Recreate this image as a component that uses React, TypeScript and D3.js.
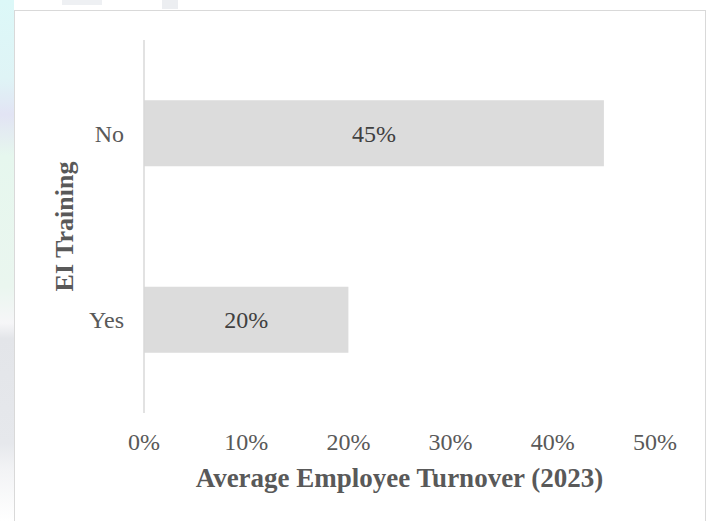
import React from "react";
import * as d3 from "d3";

const categories = ["No", "Yes"];
const values = [0.45, 0.2];
const xTicks = [0, 0.1, 0.2, 0.3, 0.4, 0.5];
const xTitle = "Average Employee Turnover (2023)";
const yTitle = "EI Training";

const W = 709;
const H = 521;
const plot = { left: 144, right: 655, top: 40, bottom: 413 };

export default function App() {
  const x = d3.scaleLinear().domain([0, 0.5]).range([plot.left, plot.right]);
  const y = d3
    .scaleBand<string>()
    .domain(categories)
    .range([plot.top, plot.bottom])
    .paddingInner(0.646)
    .paddingOuter(0.323);
  const fmt = d3.format(".0%");
  const font = "'Liberation Serif', 'Times New Roman', serif";

  return (
    <svg
      width={W}
      height={H}
      style={{ position: "absolute", left: 0, top: 0, background: "#fff" }}
      fontFamily={font}
    >
      {/* faint background watermark strip */}
      <defs>
        <linearGradient id="wm" x1="0" y1="0" x2="0" y2="1">
          <stop offset="0" stopColor="#dcf8f8" />
          <stop offset="0.15" stopColor="#dff4f6" />
          <stop offset="0.22" stopColor="#e2e4f4" />
          <stop offset="0.3" stopColor="#e6f7ee" />
          <stop offset="0.55" stopColor="#eaf6ef" />
          <stop offset="0.62" stopColor="#f6f6f8" />
          <stop offset="0.65" stopColor="#e3e5e9" />
          <stop offset="0.85" stopColor="#e6e8ec" />
          <stop offset="0.9" stopColor="#f2f3f5" />
          <stop offset="1" stopColor="#ffffff" />
        </linearGradient>
      </defs>
      <rect x={0} y={0} width={14} height={H} fill="url(#wm)" />
      <rect x={62} y={0} width={40} height={5} fill="#eef0f3" />
      <rect x={162} y={0} width={16} height={9} fill="#eceef1" />

      {/* chart area border */}
      <rect
        x={14.5}
        y={10.5}
        width={691}
        height={530}
        fill="#fff"
        stroke="#d9d9d9"
        strokeWidth={1}
      />

      {/* bars */}
      {categories.map((c, i) => (
        <rect
          key={c}
          x={x(0)}
          y={y(c)!}
          width={x(values[i]) - x(0)}
          height={y.bandwidth()}
          fill="#dcdcdc"
        />
      ))}

      {/* vertical axis line */}
      <line
        x1={x(0)}
        x2={x(0)}
        y1={plot.top}
        y2={plot.bottom}
        stroke="#d9d9d9"
        strokeWidth={1.5}
      />

      {/* category labels */}
      {categories.map((c) => (
        <text
          key={c}
          x={x(0) - 20}
          y={y(c)! + y.bandwidth() / 2}
          dy="0.35em"
          textAnchor="end"
          fontSize={24}
          fill="#595959"
        >
          {c}
        </text>
      ))}

      {/* data labels */}
      {categories.map((c, i) => (
        <text
          key={c}
          x={(x(0) + x(values[i])) / 2}
          y={y(c)! + y.bandwidth() / 2}
          dy="0.35em"
          textAnchor="middle"
          fontSize={24}
          fill="#404040"
        >
          {fmt(values[i])}
        </text>
      ))}

      {/* x tick labels */}
      {xTicks.map((t) => (
        <text
          key={t}
          x={x(t)}
          y={450}
          textAnchor="middle"
          fontSize={24}
          fill="#595959"
        >
          {fmt(t)}
        </text>
      ))}

      {/* axis titles */}
      <text
        x={(plot.left + plot.right) / 2}
        y={487}
        textAnchor="middle"
        fontSize={27}
        fontWeight="bold"
        fill="#595959"
      >
        {xTitle}
      </text>
      <text
        transform={`translate(73, ${(plot.top + plot.bottom) / 2}) rotate(-90)`}
        textAnchor="middle"
        fontSize={26}
        fontWeight="bold"
        fill="#595959"
      >
        {yTitle}
      </text>
    </svg>
  );
}
